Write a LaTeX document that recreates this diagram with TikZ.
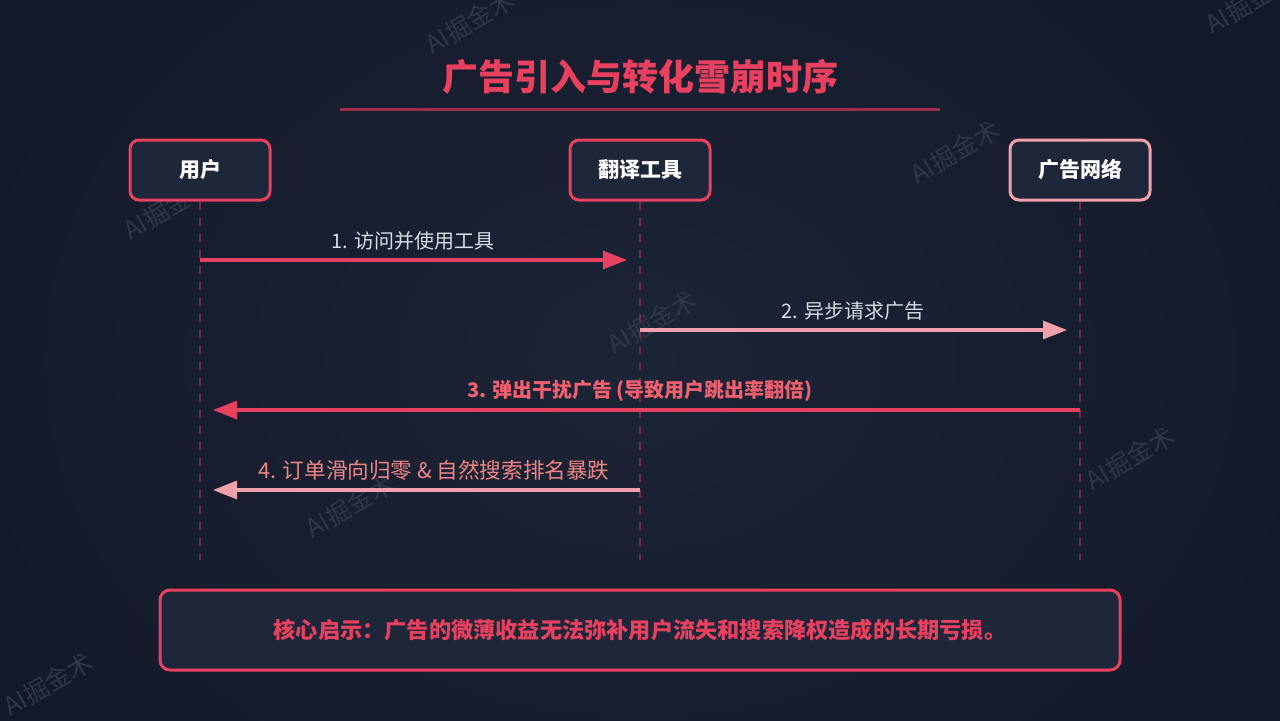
\documentclass[tikz,border=0pt]{standalone}
\usepackage{fontspec}
\setmainfont{Noto Sans CJK SC}
\usetikzlibrary{arrows.meta,calc}
\definecolor{bgin}{HTML}{1C2437}
\definecolor{bgout}{HTML}{121827}
\definecolor{boxfill}{HTML}{1E2639}
\definecolor{accred}{HTML}{E8405F}
\definecolor{accpink}{HTML}{F2A0AC}
\definecolor{lifecol}{HTML}{73294A}
\definecolor{lbltext}{HTML}{D8DCE4}
\definecolor{lblred}{HTML}{F0606E}
\definecolor{lblsalmon}{HTML}{F08585}
\definecolor{wmcol}{HTML}{2E3648}
\definecolor{linecol}{HTML}{9E2C4A}
\tikzset{
  actor/.style={draw=#1, line width=1.5pt, fill=boxfill, rounded corners=4.5pt,
    minimum width=70pt, minimum height=30pt, inner sep=0pt,
    font=\fontsize{10.5pt}{12pt}\selectfont\bfseries, text=white},
  lifeline/.style={draw=lifecol, line width=0.8pt, dash pattern=on 4pt off 4pt},
  msg/.style={draw=#1, line width=1.6pt, -{Triangle[length=12pt,width=9pt]}, shorten >=6.5pt},
  msglbl/.style={font=\fontsize{10pt}{12pt}\selectfont, text=#1},
  wm/.style={font=\fontsize{12.5pt}{14pt}\selectfont, text=wmcol, rotate=30}
}
\begin{document}
\begin{tikzpicture}[x=0.5pt,y=-0.5pt]
\useasboundingbox (0,0) rectangle (1280,720);
\shade[inner color=bgin, outer color=bgout] (-200,-300) rectangle (1480,1020);
% watermarks
\node[wm] (w1) at (470,22) {AI掘金术};
\node[wm] (w2) at (168,208) {AI掘金术};
\node[wm] (w3) at (955,152) {AI掘金术};
\node[wm] (w4) at (652,322) {AI掘金术};
\node[wm] (w5) at (1130,458) {AI掘金术};
\node[wm] (w6) at (350,506) {AI掘金术};
\node[wm] (w7) at (838,636) {AI掘金术};
\node[wm] (w8) at (48,684) {AI掘金术};
\node[wm] (w9) at (1250,2) {AI掘金术};
% title
\node[font=\fontsize{18pt}{22pt}\selectfont\bfseries, text=accred] (title) at (640,77) {广告引入与转化雪崩时序};
\draw[linecol, line width=1.5pt] (340,109) coordinate (tl) -- (940,109) coordinate (tr);
% actors
\node[actor=accred] (user) at (200,170) {用户};
\node[actor=accred] (tool) at (640,170) {翻译工具};
\node[actor=accpink] (ad) at (1080,170) {广告网络};
% lifelines
\coordinate (ue) at (200,560);
\coordinate (te) at (640,560);
\coordinate (ae) at (1080,560);
\draw[lifeline] (user.south) -- (ue);
\draw[lifeline] (tool.south) -- (te);
\draw[lifeline] (ad.south) -- (ae);
% message endpoints
\coordinate (u1) at (200,260); \coordinate (t1) at (640,260);
\coordinate (t2) at (640,330); \coordinate (a2) at (1080,330);
\coordinate (a3) at (1080,410); \coordinate (u3) at (200,410);
\coordinate (t4) at (640,490); \coordinate (u4) at (200,490);
\draw[msg=accred] (u1) -- (t1);
\draw[msg=accpink] (t2) -- (a2);
\draw[msg=accred] (a3) -- (u3);
\draw[msg=accpink] (t4) -- (u4);
\node[msglbl=lbltext] (l1) at (413,241) {1. 访问并使用工具};
\node[msglbl=lbltext] (l2) at (853,311) {2. 异步请求广告};
\node[msglbl=lblred, font=\fontsize{10pt}{12pt}\selectfont\bfseries] (l3) at (640,391) {3. 弹出干扰广告 (导致用户跳出率翻倍)};
\node[msglbl=lblsalmon, font=\fontsize{10.8pt}{12pt}\selectfont] (l4) at (434,470) {4. 订单滑向归零 \& 自然搜索排名暴跌};
% insight box
\node[draw=accred, line width=1.5pt, fill=boxfill, rounded corners=5pt,
  minimum width=480pt, minimum height=40pt, inner sep=0pt,
  font=\fontsize{11.1pt}{12pt}\selectfont\bfseries, text=accred] (insight) at (640,630)
  {核心启示：广告的微薄收益无法弥补用户流失和搜索降权造成的长期亏损。};
\end{tikzpicture}
\end{document}
